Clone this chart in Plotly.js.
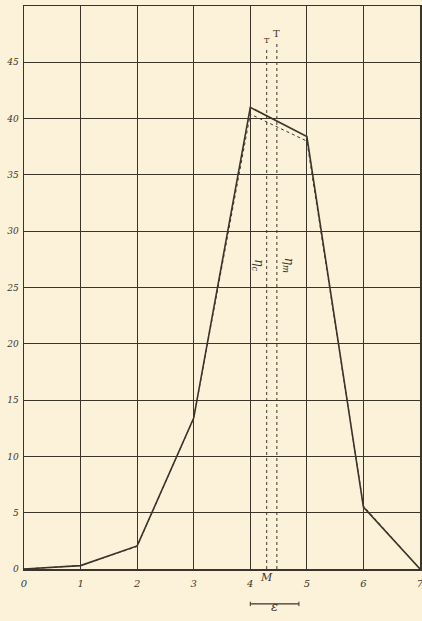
<!DOCTYPE html>
<html>
<head>
<meta charset="utf-8">
<script src="https://cdn.plot.ly/plotly-3.0.1.min.js"></script>
<style>html,body{margin:0;padding:0;background:#fcf2da;}#chart{width:422px;height:621px;}</style>
</head>
<body>
<div id="chart"></div>
<script>
var xValues = [0, 1, 2, 3, 4, 5, 6, 7];
var solidValues = [0, 0.3, 2.05, 13.4, 41.0, 38.4, 5.5, 0];
var dottedValues = [0, 0.3, 2.0, 13.4, 40.4, 38.0, 5.6, 0];
var xTickLabels = ['0', '1', '2', '3', '4', '5', '6', '7'];
var yTickVals = [0, 5, 10, 15, 20, 25, 30, 35, 40, 45];
var yTickLabels = ['0', '5', '10', '15', '20', '25', '30', '35', '40', '45'];
var etaC = 4.29, etaM = 4.47;
var barStart = 4.0, barEnd = 4.86;

var ink = '#3b342a';
var serif = 'DejaVu Serif, Liberation Serif, serif';

var traces = [
  {x: xValues, y: dottedValues, mode: 'lines', line: {color: ink, width: 1, dash: 'dot'}, hoverinfo: 'skip'},
  {x: xValues, y: solidValues, mode: 'lines', line: {color: ink, width: 1.6}, hoverinfo: 'skip'}
];

var shapes = [
  {type: 'line', xref: 'x', yref: 'y', x0: etaC, x1: etaC, y0: 0, y1: 46.3, line: {color: ink, width: 1, dash: 'dot'}},
  {type: 'line', xref: 'x', yref: 'y', x0: etaM, x1: etaM, y0: 0, y1: 46.9, line: {color: ink, width: 1, dash: 'dot'}},
  {type: 'line', xref: 'x', yref: 'paper', x0: barStart, x1: barEnd, y0: -0.062, y1: -0.062, line: {color: ink, width: 1.3}},
  {type: 'line', xref: 'x', yref: 'paper', x0: barStart, x1: barStart, y0: -0.058, y1: -0.066, line: {color: ink, width: 1}},
  {type: 'line', xref: 'x', yref: 'paper', x0: barEnd, x1: barEnd, y0: -0.058, y1: -0.066, line: {color: ink, width: 1}}
];

var annotations = [
  {x: etaC, y: 46.9, xref: 'x', yref: 'y', text: 'T', showarrow: false, font: {family: serif, size: 8, color: ink}},
  {x: etaM, y: 47.6, xref: 'x', yref: 'y', text: 'T', showarrow: false, font: {family: serif, size: 10, color: ink}},
  {x: 4.13, y: 27, xref: 'x', yref: 'y', text: '<i>η<sub>c</sub></i>', textangle: 90, showarrow: false, font: {family: serif, size: 12, color: ink}},
  {x: 4.67, y: 27, xref: 'x', yref: 'y', text: '<i>η<sub>m</sub></i>', textangle: 90, showarrow: false, font: {family: serif, size: 12, color: ink}},
  {x: etaC, y: -0.03, xref: 'x', yref: 'paper', text: '<i>M</i>', showarrow: false, font: {family: serif, size: 11, color: ink}},
  {x: (barStart + barEnd) / 2, y: -0.083, xref: 'x', yref: 'paper', text: '<i>ε</i>', showarrow: false, font: {family: serif, size: 13, color: ink}}
];

var layout = {
  width: 422, height: 621,
  margin: {l: 24, r: 2, t: 6, b: 52},
  paper_bgcolor: '#fcf2da',
  plot_bgcolor: '#fcf2da',
  showlegend: false,
  xaxis: {
    range: [0, 7], tickvals: xValues, ticktext: xTickLabels,
    showgrid: true, gridcolor: ink, gridwidth: 1,
    zeroline: false, showline: true, linecolor: ink, linewidth: 1.5, mirror: true,
    ticks: '', ticklabeloverflow: 'allow', ticklabelstandoff: 4,
    tickfont: {family: serif, size: 10, color: ink, style: 'italic'}
  },
  yaxis: {
    range: [0, 50], tickvals: yTickVals, ticktext: yTickLabels,
    showgrid: true, gridcolor: ink, gridwidth: 1,
    zeroline: false, showline: true, linecolor: ink, linewidth: 1.5, mirror: true,
    ticks: '', ticklabelstandoff: 2, ticklabeloverflow: 'allow',
    tickfont: {family: serif, size: 9, color: ink, style: 'italic'}
  },
  shapes: shapes,
  annotations: annotations
};

Plotly.newPlot('chart', traces, layout, {displayModeBar: false, staticPlot: true});
</script>
</body>
</html>
